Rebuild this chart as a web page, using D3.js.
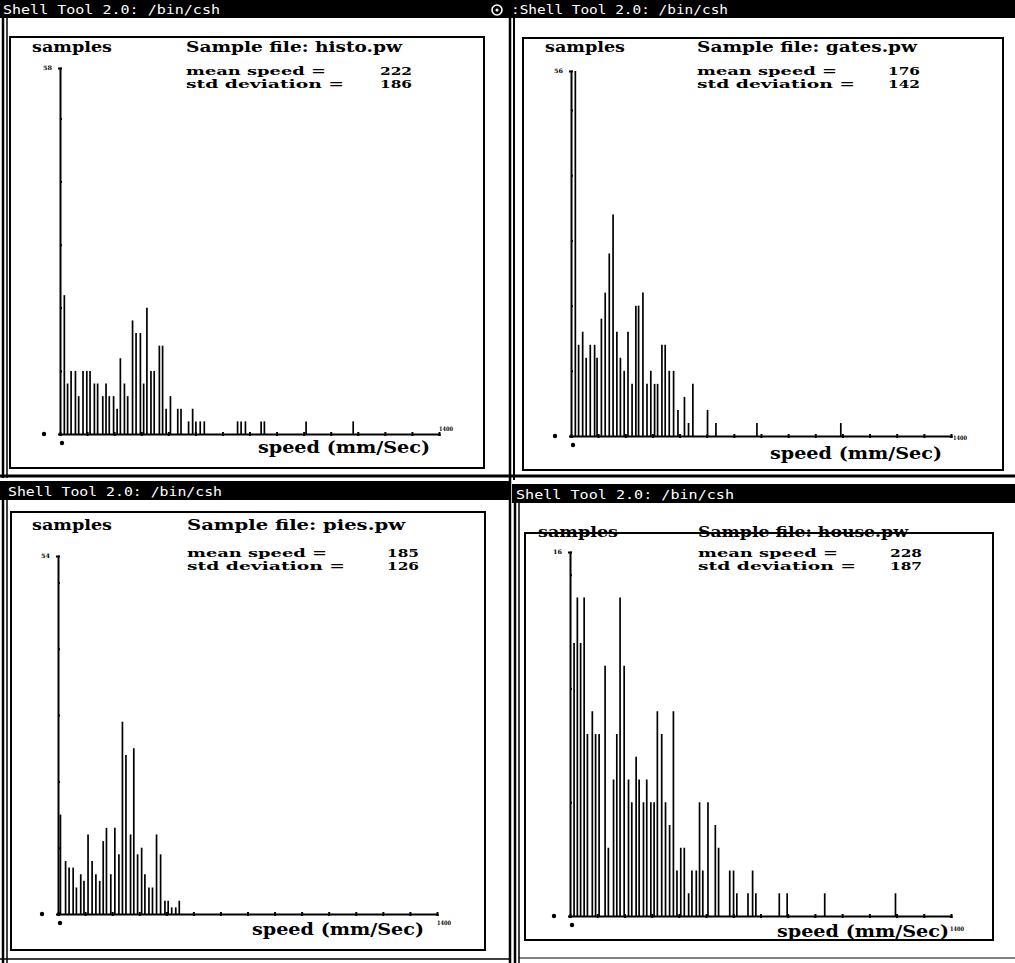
<!DOCTYPE html>
<html><head><meta charset="utf-8">
<script src="https://cdn.jsdelivr.net/npm/d3@7"></script>
<style>body{margin:0;background:#fff}svg{display:block}</style>
</head><body>
<svg id="c" width="1015" height="963"></svg>
<script>
// ---------- data ----------
const titles = ["Shell Tool 2.0: /bin/csh", ":Shell Tool 2.0: /bin/csh", "Shell Tool 2.0: /bin/csh", "Shell Tool 2.0: /bin/csh"];
const fileNames = ["histo.pw", "gates.pw", "pies.pw", "house.pw"];
const meanSpeeds = ["222", "176", "185", "228"];
const stdDevs = ["186", "142", "126", "187"];
const yMaxLabels = ["58", "56", "54", "16"];
const xTickValues = d3.range(0, 1401, 100);

const histoSpeed = [16,28,41,57,69,85,99,111,127,139,158,170,182,198,211,223,238,250,268,281,297,309,321,336,348,367,379,392,408,435,447,475,490,502,518,533,656,669,685,743,755,909,1083];
const histoCount = [22,8,10,10,6,10,10,10,8,8,6,8,6,6,4,12,8,6,18,16,16,8,20,10,10,14,14,4,6,4,4,2,4,2,2,2,2,2,2,2,2,2,2];

const gatesSpeed = [16,28,43,56,71,87,96,112,126,141,155,169,182,196,210,225,239,249,265,280,294,308,319,335,347,362,378,394,418,433,449,503,534,685,994];
const gatesCount = [56,14,16,12,14,14,12,18,22,28,34,16,12,10,16,8,20,20,22,8,10,8,8,14,14,10,10,4,6,2,8,4,2,2,2];

const piesSpeed = [9,28,41,56,68,84,96,111,126,140,154,167,179,195,210,225,238,251,268,280,294,309,321,336,349,364,379,395,407,420,435,448];
const piesCount = [15,8,7,7,4,6,5,12,8,6,5,11,13,6,13,9,29,24,12,25,9,10,6,4,4,12,9,2,2,1,1,2];

const houseSpeed = [15,27,39,52,64,82,94,107,129,141,160,172,184,199,215,227,243,254,270,282,297,309,321,337,351,366,380,393,407,420,436,448,464,476,488,507,534,546,587,601,613,654,671,683,769,798,936,1196];
const houseCount = [12,14,12,14,8,9,8,8,11,3,6,8,14,11,6,5,7,6,5,6,5,5,9,8,5,4,9,2,3,3,1,2,2,5,2,5,4,3,2,2,1,1,2,1,1,1,1,1];

// ---------- drawing ----------
const svg = d3.select("#c");
const FONT = "'DejaVu Serif', serif";
const MONO = "'DejaVu Sans Mono', monospace";

// window chrome
svg.append("rect").attr("x",0).attr("y",0).attr("width",1015).attr("height",18).attr("fill","#000");
svg.append("rect").attr("x",0).attr("y",481).attr("width",510).attr("height",19).attr("fill","#000");
svg.append("rect").attr("x",512).attr("y",484).attr("width",503).attr("height",19).attr("fill","#000");
svg.append("circle").attr("cx",497).attr("cy",10).attr("r",5).attr("fill","none").attr("stroke","#fff").attr("stroke-width",1.6);
svg.append("circle").attr("cx",497).attr("cy",10).attr("r",1.5).attr("fill","#fff");

const titlePos = [[3,14,217],[511,14,217],[8,496,214],[516,499,218]];
titles.forEach((t,i)=>{
  svg.append("text").attr("x",titlePos[i][0]).attr("y",titlePos[i][1])
    .attr("textLength",titlePos[i][2]).attr("lengthAdjust","spacingAndGlyphs")
    .attr("font-family",MONO).attr("font-size",13).attr("fill","#fff").text(t);
});

const line = (x1,y1,x2,y2,w,c)=>svg.append("line").attr("x1",x1).attr("y1",y1).attr("x2",x2).attr("y2",y2)
  .attr("stroke",c||"#000").attr("stroke-width",w||1);
// frame lines
line(3,18,3,478,2.5); line(7,18,7,478,1.5);
line(3,500,3,963,2.5); line(7,500,7,963,1.5);
line(510,18,510,963,2.5); line(514,18,514,480,2);
line(515,503,515,963,2.5); line(519,503,519,963,1.5);
line(0,476,1015,476,3);
line(0,959,510,959,1.5);
line(519,958,1015,958,1);

const panels = [
  {box:[10,37,484,468], x0:60, x1:439, base:434, top:68, ymax:58, step:10, sp:histoSpeed, ct:histoCount,
   samp:[32,52], file:[186,52,216], mean:[186,75], std:[186,88], val:380, speedLbl:[258,453], k:[439,431]},
  {box:[523,38,1003,470], x0:571, x1:951, base:436, top:71, ymax:56, step:10, sp:gatesSpeed, ct:gatesCount,
   samp:[545,52], file:[697,52,220], mean:[697,75], std:[697,88], val:888, speedLbl:[770,459], k:[953,440]},
  {box:[11,512,485,950], x0:58, x1:437, base:914, top:556, ymax:54, step:10, sp:piesSpeed, ct:piesCount,
   samp:[32,530], file:[187,530,218], mean:[187,557], std:[187,570], val:387, speedLbl:[252,935], k:[437,925]},
  {box:[525,533,993,940], x0:570, x1:951, base:916, top:552, ymax:16, step:5, sp:houseSpeed, ct:houseCount,
   samp:[538,537], file:[698,537,210], mean:[698,557], std:[698,570], val:890, speedLbl:[777,937], k:[950,931]}
];

const txt = (x,y,s,size,len,weight)=>{
  const t = svg.append("text").attr("x",x).attr("y",y).attr("font-family",FONT)
    .attr("font-size",size).attr("font-weight",weight||"bold").attr("fill","#000").text(s);
  if(len) t.attr("textLength",len).attr("lengthAdjust","spacingAndGlyphs");
  return t;
};

panels.forEach((p,i)=>{
  const [bx1,by1,bx2,by2] = p.box;
  txt(p.samp[0],p.samp[1],"samples",15,80);
  txt(p.file[0],p.file[1],"Sample file: "+fileNames[i],15,p.file[2]);
  txt(p.mean[0],p.mean[1],"mean speed =",11,140);
  txt(p.std[0],p.std[1],"std deviation =",11,158);
  txt(p.val,p.mean[1],meanSpeeds[i],11,32);
  txt(p.val,p.std[1],stdDevs[i],11,32);
  txt(p.speedLbl[0],p.speedLbl[1],"speed (mm/Sec)",16,172);
  txt(p.k[0],p.k[1],"1400",6,14);
  svg.append("rect").attr("x",bx1).attr("y",by1).attr("width",bx2-bx1).attr("height",by2-by1)
    .attr("fill","none").attr("stroke","#000").attr("stroke-width",2);

  const x = d3.scaleLinear().domain([0,1400]).range([p.x0,p.x1]);
  const y = d3.scaleLinear().domain([0,p.ymax]).range([p.base,p.top]);
  const g = svg.append("g");

  // bars
  g.selectAll("line.bar").data(p.sp.map((s,j)=>({s,c:p.ct[j]}))).join("line")
    .attr("class","bar")
    .attr("x1",d=>x(d.s)).attr("x2",d=>x(d.s))
    .attr("y1",y(0)).attr("y2",d=>y(d.c))
    .attr("stroke","#000").attr("stroke-width",1.7);

  // x axis
  const xa = g.append("g").attr("transform",`translate(0,${p.base})`)
    .call(d3.axisBottom(x).tickValues(xTickValues).tickSize(2).tickFormat(""));
  xa.select(".domain").attr("stroke-width",2.2);
  xa.selectAll(".tick line").attr("stroke-width",2).attr("y1",-2);
  // y axis
  const yt = d3.range(p.step, p.ymax, p.step);
  const ya = g.append("g").attr("transform",`translate(${p.x0},0)`)
    .call(d3.axisLeft(y).tickValues(yt.concat([p.ymax])).tickSize(2).tickFormat(""));
  ya.select(".domain").attr("stroke-width",2);
  ya.selectAll(".tick line").attr("stroke-width",2).attr("x2",2);
  // tiny labels
  txt(p.x0-17,p.top+2,yMaxLabels[i],6,9);
  svg.append("circle").attr("cx",p.x0-16).attr("cy",p.base).attr("r",2.2).attr("fill","#000");
  svg.append("circle").attr("cx",p.x0+2).attr("cy",p.base+9).attr("r",2.2).attr("fill","#000");
});
</script>
</body></html>
